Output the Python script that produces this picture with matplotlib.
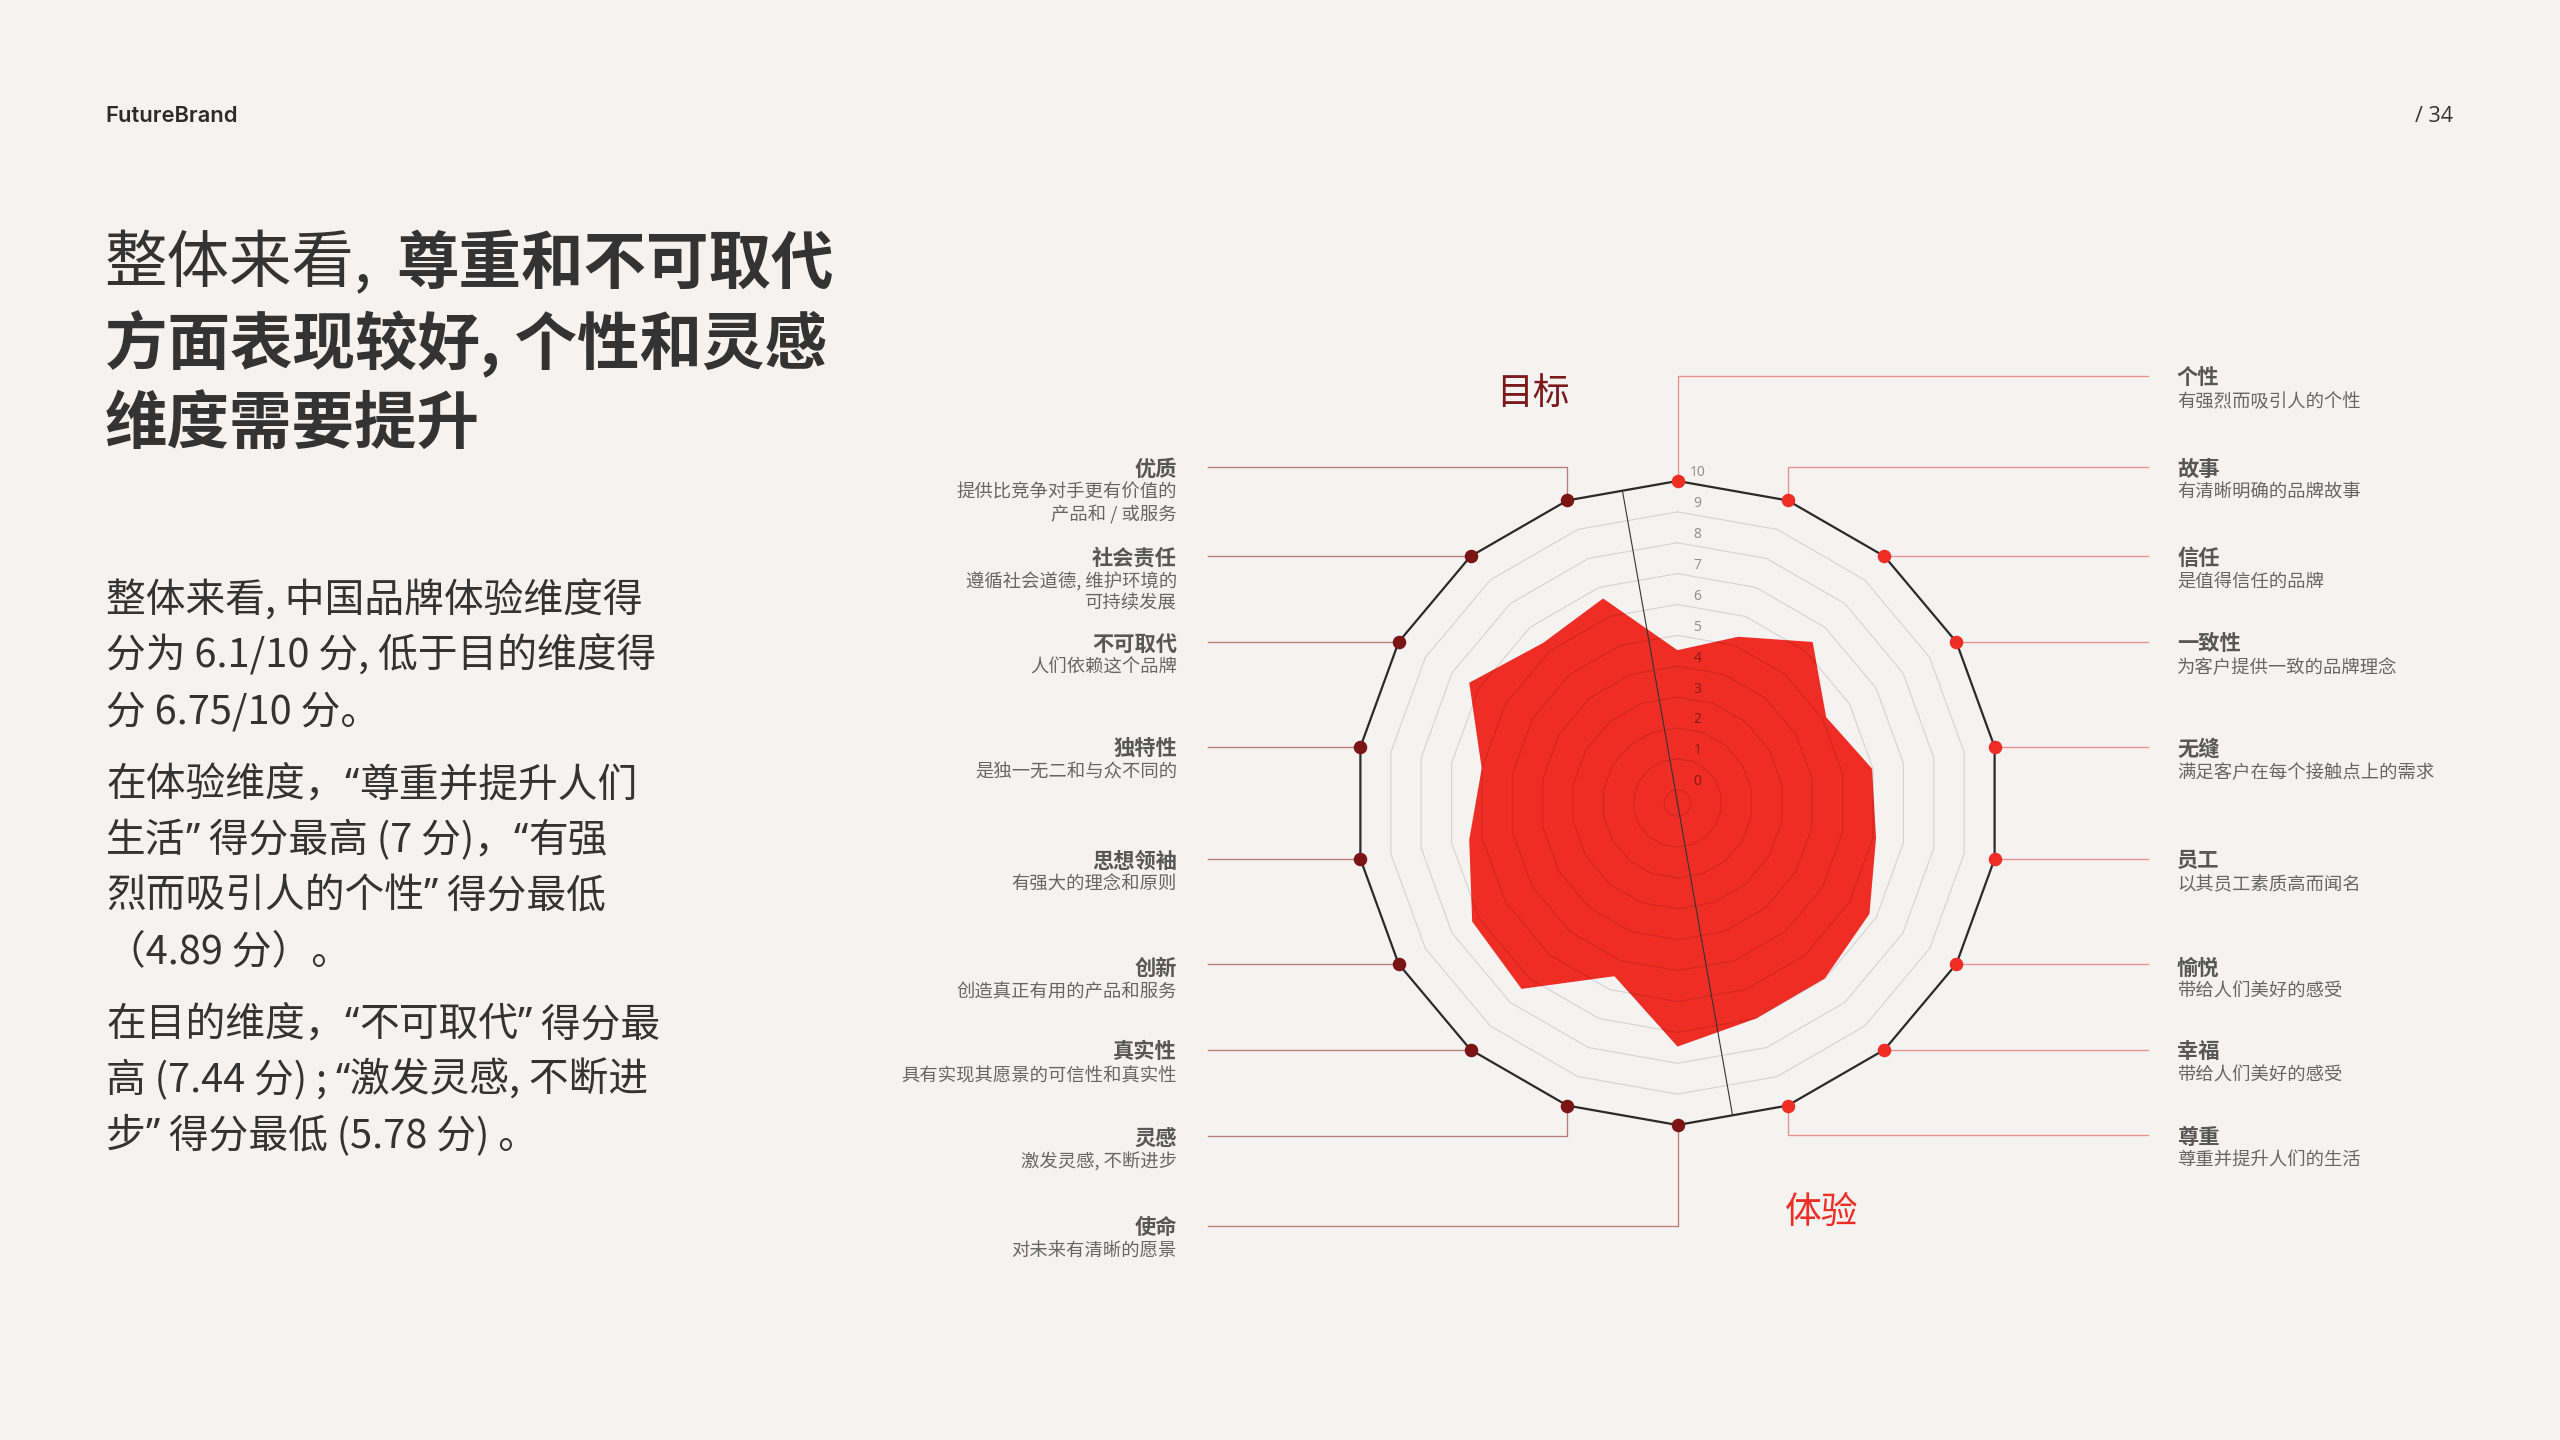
"""
FutureBrand p.34 - radar of 18 brand dimensions (目标 vs 体验).
"""
import matplotlib.pyplot as plt
import numpy as np
from matplotlib.font_manager import FontProperties

plt.rcParams['font.family'] = ['Noto Sans CJK SC', 'DejaVu Sans']

# ---- data -------------------------------------------------------------
# 18 dimensions, clockwise from the top
dims = ['个性', '故事', '信任', '一致性', '无缝', '员工', '愉悦', '幸福', '尊重',
        '使命', '灵感', '真实性', '创新', '思想领袖', '独特性', '不可取代', '社会责任', '优质']
descs = ['有强烈而吸引人的个性', '有清晰明确的品牌故事', '是值得信任的品牌',
         '为客户提供一致的品牌理念', '满足客户在每个接触点上的需求', '以其员工素质高而闻名',
         '带给人们美好的感受', '带给人们美好的感受', '尊重并提升人们的生活',
         '对未来有清晰的愿景', '激发灵感, 不断进步', '具有实现其愿景的可信性和真实性',
         '创造真正有用的产品和服务', '有强大的理念和原则', '是独一无二和与众不同的',
         '人们依赖这个品牌', '遵循社会道德, 维护环境的\n可持续发展', '提供比竞争对手更有价值的\n产品和 / 或服务']
scores = [4.52, 5.30, 6.38, 5.13, 5.97, 6.10, 6.75, 6.99, 7.00,
          7.46, 5.54, 7.43, 7.25, 6.42, 6.01, 7.36, 6.34, 6.62]
groups = ['体验'] * 9 + ['目标'] * 9
ring_ticks = list(range(0, 11))

title_lines = [('整体来看, ', '尊重和不可取代'), ('', '方面表现较好, 个性和灵感'), ('', '维度需要提升')]
body_lines = ['整体来看, 中国品牌体验维度得',
              '分为 6.1/10 分, 低于目的维度得',
              '分 6.75/10 分。',
              '在体验维度，“尊重并提升人们',
              '生活” 得分最高 (7 分)，“有强',
              '烈而吸引人的个性” 得分最低',
              '（4.89 分）。',
              '在目的维度，“不可取代” 得分最',
              '高 (7.44 分) ; “激发灵感, 不断进',
              '步” 得分最低 (5.78 分) 。']

# ---- layout -----------------------------------------------------------
W, H = 2560, 1440
BG = '#f4f3f1'
RED = '#ee2d24'
DARK = '#7b1515'
CX, CY, R = 1677.5, 803, 322
RMIN = -0.43
label_y = [376, 467, 556, 642, 747, 859, 966, 1050, 1135,
           1226, 1136, 1050, 966, 859, 747, 642, 556, 467]
body_y = [598, 653, 708.5, 782, 837, 892.5, 948, 1021.5, 1077, 1132.5]
BODY_SIZE = 28.6

fig = plt.figure(figsize=(W / 100, H / 100), dpi=100, facecolor=BG)
renderer = fig.canvas.get_renderer()

lay = fig.add_axes([0, 0, 1, 1])
lay.set_xlim(0, W)
lay.set_ylim(H, 0)
lay.axis('off')


def advance(s, prop):
    # pen advance of s in pixels (bar trick so trailing spaces count)
    w1 = renderer.get_text_width_height_descent(s + '|', prop, ismath=False)[0]
    w0 = renderer.get_text_width_height_descent('|', prop, ismath=False)[0]
    return w1 - w0


def draw_line(x, y_center, s, size, color):
    # quotes from a Latin font so they stay proportional, the rest in CJK
    cjk = FontProperties(family=['Noto Sans CJK SC', 'DejaVu Sans'], size=size)
    lat = FontProperties(family=['Noto Sans', 'DejaVu Sans'], size=size)
    base = y_center + 0.37 * size * 100 / 72
    runs, cur = [], ''
    for ch in s:
        if ch in '“”':
            if cur:
                runs.append((cur, cjk))
            runs.append((ch, lat))
            cur = ''
        else:
            cur += ch
    if cur:
        runs.append((cur, cjk))
    for run, prop in runs:
        lay.text(x, base, run, fontproperties=prop, ha='left', va='baseline', color=color)
        x += advance(run, prop)


ax = fig.add_axes([(CX - R) / W, (H - CY - R) / H, 2 * R / W, 2 * R / H], projection='polar')
ax.set_theta_zero_location('N')
ax.set_theta_direction(-1)
ax.set_ylim(RMIN, 10)
ax.axis('off')

n = len(dims)
theta = np.deg2rad(np.arange(n) * 360 / n)
tc = np.append(theta, theta[0])

ax.fill(tc, np.append(scores, scores[0]), color=RED, lw=0, zorder=2)
for v in ring_ticks[:-1]:
    ax.plot(tc, [v] * (n + 1), color='black', alpha=0.13, lw=0.8, zorder=3)
ax.plot(tc, [ring_ticks[-1]] * (n + 1), color='#2a2a2a', lw=1.6, zorder=4, clip_on=False)

# divider between the two halves, meets the frame at mid-edge
r_edge = (10 - RMIN) * np.cos(np.pi / n) + RMIN
for a in (350, 170):
    ax.plot([np.deg2rad(a)] * 2, [RMIN, r_edge], color='#333333', lw=0.8, zorder=4)

is_exp = np.array([g == '体验' for g in groups])
ax.scatter(theta[is_exp], [10] * is_exp.sum(), s=95, color=RED, zorder=5, clip_on=False, lw=0)
ax.scatter(theta[~is_exp], [10] * (~is_exp).sum(), s=95, color=DARK, zorder=5, clip_on=False, lw=0)

for v in ring_ticks:
    ax.annotate(str(v), (0, v), xytext=(20, 8), textcoords='offset pixels',
                ha='center', va='center', fontsize=10, color='black', alpha=0.4,
                family='Noto Sans', zorder=6)

# leader lines + labels
pts = ax.transData.transform(np.column_stack([theta, np.full(n, 10.0)]))
for i in range(n):
    dx, dy = pts[i, 0], H - pts[i, 1]
    ly = label_y[i]
    line_y = dy if abs(ly - dy) < 8 else ly
    if is_exp[i]:
        x_end, x_txt, ha, col = 2148, 2177, 'left', '#ec8f8b'
    else:
        x_end, x_txt, ha, col = 1208, 1177, 'right', '#b97a7a'
    lay.plot([dx, dx, x_end], [dy, line_y, line_y], color=col, lw=0.95, zorder=1)
    lay.text(x_txt, ly + 2, dims[i], ha=ha, va='center', fontsize=15.3,
             fontweight='bold', color='#575757')
    for k, s in enumerate(descs[i].split('\n')):
        lay.text(x_txt, ly + 26 + 21.5 * k, s, ha=ha, va='center', fontsize=13.2,
                 color='#666666')

lay.text(1533, 393, '目标', ha='center', va='center', fontsize=26.5, color='#7a1a1a')
lay.text(1822, 1212, '体验', ha='center', va='center', fontsize=26.5, color=RED)

# header
lay.text(105, 116, 'FutureBrand', ha='left', va='center', fontsize=15.8,
         family=['Inter', 'DejaVu Sans'], fontweight='semibold', color='#2b2b2b')
lay.text(2453, 117, '/ 34', ha='right', va='center', fontsize=15.5,
         family=['Open Sans', 'DejaVu Sans'], color='#333333')

# headline: first words regular, rest bold
for (reg, bold), y in zip(title_lines, [264.5, 344.6, 424.6]):
    x = 105
    if reg:
        t = lay.text(x, y, reg.strip(), ha='left', va='center', fontsize=45, color='#333333')
        x = t.get_window_extent(renderer).x1 + 24
    lay.text(x, y, bold, ha='left', va='center', fontsize=45, fontweight='bold', color='#333333')

for s, y in zip(body_lines, body_y):
    draw_line(106, y, s, BODY_SIZE, '#333333')

fig.savefig('out.png', dpi=100, facecolor=BG)
